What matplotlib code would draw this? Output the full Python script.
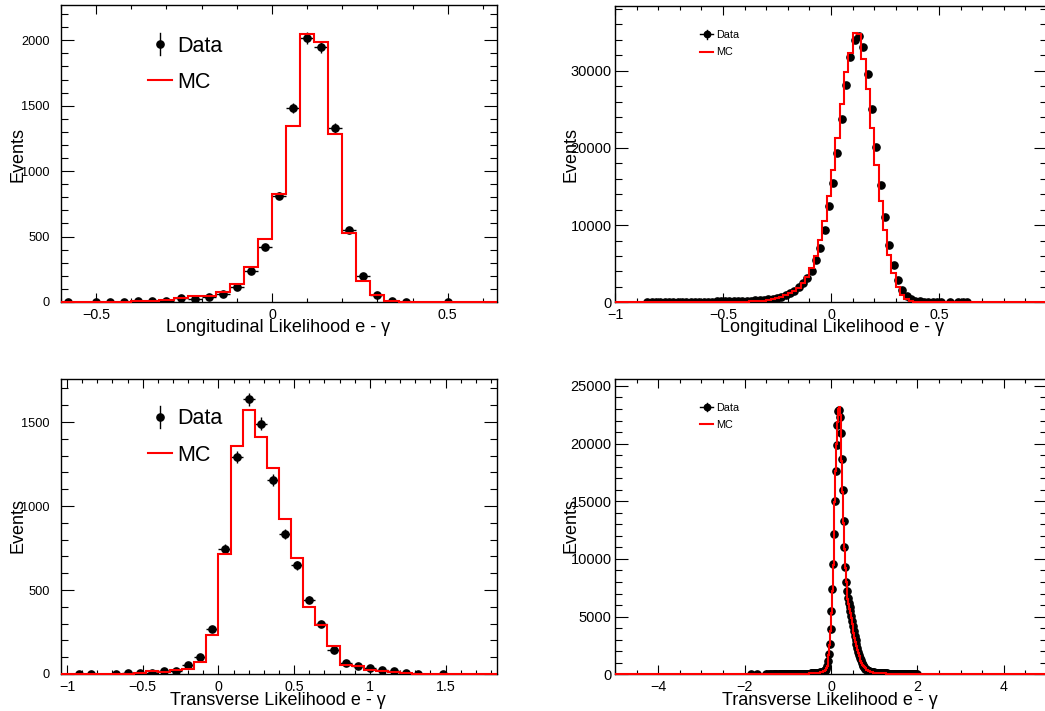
import numpy as np
import matplotlib
matplotlib.use("Agg")
import matplotlib.pyplot as plt
from matplotlib.ticker import MultipleLocator, FuncFormatter

plt.rcParams['font.family'] = ['Liberation Sans', 'DejaVu Sans']

# ---------------- Longitudinal likelihood, 0.04 bins ----------------
lon_range = (-0.60, 0.64)
lon_nbins = 31
lon_data = [2, 0, 3, 3, 3, 10, 10, 10, 30, 23,
            38, 61, 114, 234, 422, 812, 1483, 2018, 1949, 1331,
            550, 201, 53, 8, 2, 0, 0, 1, 0, 0, 0]
lon_mc = [1, 1, 2, 2, 3, 5, 8, 15, 28, 46,
          44, 74, 137, 270, 483, 822, 1349, 2051, 1990, 1285,
          527, 158, 56, 5, 2, 1, 0, 0, 0, 0, 0]

# ---------------- Longitudinal likelihood, 0.02 bins ----------------
lonf_range = (-1.0, 1.0)
lonf_nbins = 100
lonf_mc = [0, 0, 0, 0, 0, 0, 0,
           10, 12, 13, 14, 15, 17, 18, 20, 22, 24, 26, 28, 31, 34, 38, 42, 47, 53,
           60, 66, 73, 81, 90, 100, 112, 128, 150, 185, 250, 370, 520,
           700, 900, 1150, 1480, 1900, 2450, 3300, 4500, 5950, 8090, 10480, 13720,
           17190, 21300, 25630, 29830, 32340, 34850, 34700, 31480, 27580, 22600,
           17840, 13160, 9390, 6140, 3760, 2030, 950, 390, 160, 70, 30, 15, 8, 4, 2,
           0, 0, 0, 0, 0, 0, 0, 0, 0, 0, 0, 0, 0, 0, 0, 0, 0, 0, 0, 0, 0, 0, 0, 0, 0]
lonf_data_first_edge = -0.86
lonf_data = [30, 34, 37, 40, 44, 47, 51, 55, 59, 63,
             68, 73, 79, 85, 92, 99, 107, 116, 126, 137,
             149, 162, 177, 194, 214, 240, 275, 320, 380, 460,
             560, 720, 920, 1170, 1500, 1950, 2500, 3150, 4100, 5450, 7010, 9300, 12420,
             15450, 19350, 23680, 28140, 31820, 33980, 34500, 33070, 29520, 24980,
             20090, 15240, 11040, 7440, 4840, 2900, 1600, 800, 420, 220,
             120, 70, 40, 25, 15, 10, 0, 5, 0, 3, 3, 2]

# ---------------- Transverse likelihood, 0.08 bins ----------------
tra_range = (-1.04, 1.84)
tra_nbins = 36
tra_data = [0, 2, 2, 0, 2, 3, 3, 5, 16, 18,
            51, 101, 269, 745, 1293, 1634, 1491, 1154, 834, 646,
            441, 297, 141, 65, 48, 35, 21, 18, 4, 1,
            0, 1, 0, 0, 0, 0]
tra_mc = [1, 1, 1, 1, 2, 2, 3, 20, 10, 24,
          30, 73, 234, 717, 1356, 1570, 1412, 1226, 923, 691,
          396, 291, 168, 51, 49, 24, 20, 14, 4, 1,
          1, 0, 0, 0, 0, 0]

# ---------------- Transverse likelihood, 0.02 bins ----------------
traf_range = (-5.0, 5.0)
traf_nbins = 500
traf_first_edge = -2.0
traf_data = [0, 0, 0, 0, 0, 0, 0, 4, 0, 0,
             0, 0, 0, 0, 5, 0, 0, 0, 0, 0,
             0, 0, 0, 0, 6, 0, 0, 3, 0, 5,
             6, 0, 8, 7, 0, 9, 8, 10, 0, 11,
             12, 10, 13, 12, 14, 15, 13, 16, 17, 15,
             18, 19, 17, 21, 22, 20, 24, 23, 25, 27,
             28, 30, 29, 33, 35, 34, 38, 40, 42, 45,
             48, 50, 54, 57, 60, 65, 70, 74, 80, 86,
             92, 100, 108, 116, 126, 138, 150, 165, 182, 200,
             220, 250, 290, 360, 500, 760, 1150, 1750, 2650, 3900,
             5500, 7400, 9600, 12200, 15000, 17600, 19900, 21600, 22800, 22950,
             22300, 20900, 18700, 16000, 13300, 11000, 9300, 8000, 7200, 6600,
             6200, 5850, 5500, 5050, 4600, 4150, 3750, 3350, 2950, 2600,
             2250, 1950, 1680, 1420, 1200, 1000, 840, 700, 590, 500,
             430, 370, 320, 280, 250, 225, 205, 190, 175, 162,
             150, 140, 131, 123, 116, 110, 104, 99, 94, 90,
             86, 82, 78, 75, 72, 69, 66, 63, 61, 58,
             56, 54, 52, 50, 48, 46, 44, 42, 41, 39,
             38, 36, 35, 34, 33, 31, 30, 29, 28, 27,
             26, 25, 24, 23, 22, 21, 20, 19, 18, 17]
traf_mc = [2, 2, 2, 2, 3, 3, 3, 3, 3, 4,
           4, 4, 4, 5, 5, 5, 5, 6, 6, 6,
           6, 7, 7, 7, 8, 8, 8, 9, 9, 10,
           10, 11, 11, 12, 12, 13, 13, 14, 14, 15,
           15, 16, 17, 17, 18, 19, 19, 20, 21, 22,
           23, 24, 25, 26, 27, 28, 29, 30, 32, 33,
           35, 36, 38, 40, 42, 44, 46, 48, 50, 53,
           56, 59, 62, 65, 69, 73, 77, 81, 86, 91,
           97, 103, 110, 118, 127, 137, 149, 163, 180, 200,
           225, 255, 300, 380, 520, 760, 1120, 1700, 2550, 3750,
           5300, 7250, 9500, 12100, 14900, 17600, 20000, 21900, 23000, 23200,
           22500, 20800, 18500, 15800, 13100, 10900, 9200, 8000, 7150, 6550,
           6100, 5700, 5300, 4850, 4400, 3950, 3550, 3150, 2780, 2430,
           2120, 1840, 1590, 1360, 1160, 990, 840, 710, 600, 510,
           440, 380, 330, 290, 255, 228, 205, 186, 170, 156,
           144, 134, 125, 117, 110, 104, 98, 93, 88, 84,
           80, 76, 73, 70, 67, 64, 61, 59, 57, 55,
           53, 51, 49, 47, 45, 43, 41, 40, 38, 37,
           36, 34, 33, 32, 31, 30, 29, 28, 27, 26,
           25, 24, 23, 22, 21, 20, 19, 18, 17, 16]

title_lon = "Longitudinal Likelihood e - \u03b3"
title_tra = "Transverse Likelihood e - \u03b3"

RED = '#ff0000'


def make_fmt(xmax_label=None):
    def fmt(v, pos):
        if xmax_label is not None and v > xmax_label:
            return ""
        return f"{v:g}".replace('-', '\u2212')
    return FuncFormatter(fmt)


def hist_edges(rng, nbins):
    return np.linspace(rng[0], rng[1], nbins + 1)


def draw_hist(ax, edges, mc, data_edges, data):
    mc = np.asarray(mc, float)
    data = np.asarray(data, float)
    centers = 0.5 * (data_edges[:-1] + data_edges[1:])
    half = 0.5 * (data_edges[1:] - data_edges[:-1])
    keep = data > 0
    ax.errorbar(centers[keep], data[keep], yerr=np.sqrt(data[keep]),
                xerr=half[keep], fmt='o', color='black', ms=5.2,
                elinewidth=1.0, capsize=0, zorder=3)
    ax.stairs(mc, edges, color=RED, lw=1.5, zorder=4, clip_on=False)


def style_axes(ax, xlim, ylim, xmaj, xmin, ymaj, ymin, ylab_size, ylab_pad,
               xmax_label=None):
    ax.set_xlim(*xlim)
    ax.set_ylim(*ylim)
    ax.xaxis.set_major_locator(MultipleLocator(xmaj))
    ax.xaxis.set_minor_locator(MultipleLocator(xmin))
    ax.yaxis.set_major_locator(MultipleLocator(ymaj))
    ax.yaxis.set_minor_locator(MultipleLocator(ymin))
    ax.xaxis.set_major_formatter(make_fmt(xmax_label))
    ax.yaxis.set_major_formatter(make_fmt())
    ax.tick_params(which='both', direction='in', top=True, right=True,
                   width=0.8, color='black')
    ax.tick_params(axis='x', which='major', length=6.5, labelsize=10.3, pad=4)
    ax.tick_params(axis='x', which='minor', length=3.2)
    ax.tick_params(axis='y', which='major', length=9.4,
                   labelsize=ylab_size, pad=ylab_pad)
    ax.tick_params(axis='y', which='minor', length=4.7)
    for s in ax.spines.values():
        s.set_linewidth(1.0)
        s.set_color('black')


def legend_items(ax, mx, my, bar_half, text_x, data_base, mc_y, mc_base,
                 line_x0, line_x1, size, cross_half=None):
    tr = ax.transAxes
    ax.plot([mx, mx], [my - bar_half, my + bar_half], color='black', lw=1.0,
            transform=tr, clip_on=False, zorder=5)
    if cross_half is not None:
        ax.plot([mx - cross_half, mx + cross_half], [my, my], color='black',
                lw=1.0, transform=tr, clip_on=False, zorder=5)
    ax.plot([mx], [my], 'o', color='black', ms=5.2 if cross_half is None else 4.6,
            transform=tr, clip_on=False, zorder=5)
    ax.text(text_x, data_base, "Data", transform=tr, fontsize=size,
            ha='left', va='baseline')
    ax.plot([line_x0, line_x1], [mc_y, mc_y], color=RED, lw=1.5,
            transform=tr, clip_on=False, zorder=5)
    ax.text(text_x, mc_base, "MC", transform=tr, fontsize=size,
            ha='left', va='baseline')


fig = plt.figure(figsize=(10.45, 7.11), dpi=100)
W, H = 1045.0, 711.0

ax_tl = fig.add_axes([61 / W, (H - 302) / H, 436 / W, 297 / H])
ax_tr = fig.add_axes([615 / W, (H - 302.3) / H, 432 / W, 296.3 / H])
ax_bl = fig.add_axes([61 / W, (H - 674) / H, 436 / W, 295 / H])
ax_br = fig.add_axes([615 / W, (H - 674.3) / H, 432 / W, 295.3 / H])

# top left
e = hist_edges(lon_range, lon_nbins)
draw_hist(ax_tl, e, lon_mc, e, lon_data)
style_axes(ax_tl, lon_range, (0, 2270), 0.5, 0.1, 500, 100, 9.2, 8.0)
legend_items(ax_tl, 0.227, 0.869, 0.037, 0.266, 0.8407, 0.7475, 0.7215,
             0.1995, 0.2546, 15.5)

# top right
e = hist_edges(lonf_range, lonf_nbins)
w = e[1] - e[0]
de = lonf_data_first_edge + w * np.arange(len(lonf_data) + 1)
draw_hist(ax_tr, e, lonf_mc, de, lonf_data)
style_axes(ax_tr, lonf_range, (0, 38370), 0.5, 0.1, 10000, 2000, 10.5, 2.4,
           xmax_label=0.9)
legend_items(ax_tr, 0.212, 0.9045, 0.015, 0.234, 0.893, 0.846, 0.8336,
             0.197, 0.227, 7.8, cross_half=0.0145)

# bottom left
e = hist_edges(tra_range, tra_nbins)
draw_hist(ax_bl, e, tra_mc, e, tra_data)
style_axes(ax_bl, tra_range, (0, 1756), 0.5, 0.1, 500, 100, 9.2, 8.0)
legend_items(ax_bl, 0.227, 0.872, 0.037, 0.266, 0.8475, 0.750, 0.723,
             0.1995, 0.2546, 15.5)

# bottom right
e = hist_edges(traf_range, traf_nbins)
w = e[1] - e[0]
start = int(round((traf_first_edge - traf_range[0]) / w))
mc_full = np.zeros(traf_nbins)
mc_full[start:start + len(traf_mc)] = traf_mc
de = traf_first_edge + w * np.arange(len(traf_data) + 1)
draw_hist(ax_br, e, mc_full, de, traf_data)
style_axes(ax_br, traf_range, (0, 25600), 2, 0.5, 5000, 1000, 10.5, 2.4)
legend_items(ax_br, 0.212, 0.905, 0.015, 0.234, 0.8927, 0.8466, 0.834,
             0.197, 0.227, 7.8, cross_half=0.0145)

# axis titles
for ax, title, xc, yb, xl, yl in [
        (ax_tl, title_lon, 0.498, -0.102, -0.0986, 0.497),
        (ax_tr, title_lon, 0.502, -0.101, -0.1007, 0.499),
        (ax_bl, title_tra, 0.498, -0.105, -0.0986, 0.502),
        (ax_br, title_tra, 0.498, -0.104, -0.1007, 0.503)]:
    ax.text(xc, yb, title, transform=ax.transAxes, fontsize=13,
            ha='center', va='baseline')
    ax.text(xl, yl, "Events", transform=ax.transAxes, fontsize=13,
            rotation=90, ha='center', va='center')

fig.savefig("out.png", dpi=100, facecolor='white')
